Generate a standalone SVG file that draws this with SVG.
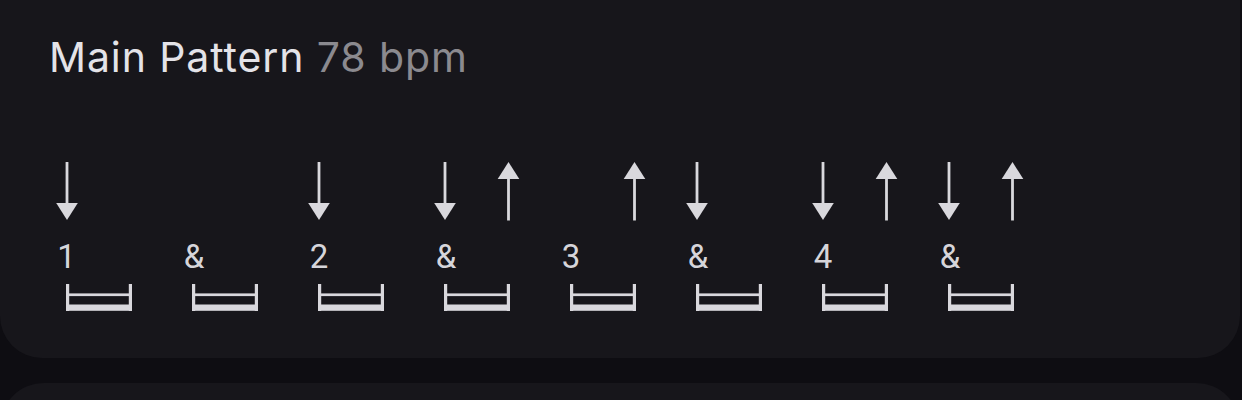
<svg xmlns="http://www.w3.org/2000/svg" width="1242" height="400" viewBox="0 0 1242 400">
<defs>
<style>
.card{fill:#17161b}
.title{font-family:Inter,"Noto Sans",sans-serif;font-size:41px;font-weight:400;letter-spacing:0.9px}
.lbl{font-family:Roboto,"Liberation Sans",sans-serif;font-size:33px;fill:#d6d5da;text-anchor:middle}
.ink{fill:#d9d8dd}
.shaft{stroke:#d9d8dd;stroke-width:2.8}
</style>
<g id="down">
<line class="shaft" x1="0" y1="162" x2="0" y2="206"/>
<polygon class="ink" points="-10.8,203 10.8,203 0,220"/>
</g>
<g id="up">
<line class="shaft" x1="0" y1="176" x2="0" y2="220.5"/>
<polygon class="ink" points="-10.8,179 10.8,179 0,162"/>
</g>
<g id="box">
<rect class="ink" x="0" y="284" width="3.2" height="27"/>
<rect class="ink" x="62.8" y="284" width="3.2" height="27"/>
<rect class="ink" x="0" y="293.4" width="66" height="2.7"/>
<rect class="ink" x="0" y="304.5" width="66" height="6.3"/>
</g>
</defs>
<rect width="1242" height="400" fill="#0e0d12"/>
<rect class="card" x="0" y="-60" width="1240" height="418" rx="42"/>
<rect class="card" x="0" y="383" width="1240" height="100" rx="44"/>
<g id="title">
<text class="title" x="49" y="72"><tspan fill="#e4e3e8">Main Pattern</tspan><tspan fill="#8b8a8f"> 78 bpm</tspan></text>
</g>
<g id="strokes">
<use href="#down" x="67"/>
<use href="#down" x="319"/>
<use href="#down" x="445"/>
<use href="#up" x="508.5"/>
<use href="#up" x="634.5"/>
<use href="#down" x="697"/>
<use href="#down" x="823"/>
<use href="#up" x="886.5"/>
<use href="#down" x="949"/>
<use href="#up" x="1012.5"/>
</g>
<g id="beat1"><text class="lbl" x="66.5" y="268">1</text><use href="#box" x="66"/></g>
<g id="beat1and"><text class="lbl" x="194" y="268">&amp;</text><use href="#box" x="192"/></g>
<g id="beat2"><text class="lbl" x="319" y="268">2</text><use href="#box" x="318"/></g>
<g id="beat2and"><text class="lbl" x="446" y="268">&amp;</text><use href="#box" x="444"/></g>
<g id="beat3"><text class="lbl" x="571" y="268">3</text><use href="#box" x="570"/></g>
<g id="beat3and"><text class="lbl" x="698" y="268">&amp;</text><use href="#box" x="696"/></g>
<g id="beat4"><text class="lbl" x="823" y="268">4</text><use href="#box" x="822"/></g>
<g id="beat4and"><text class="lbl" x="950" y="268">&amp;</text><use href="#box" x="948"/></g>
</svg>
